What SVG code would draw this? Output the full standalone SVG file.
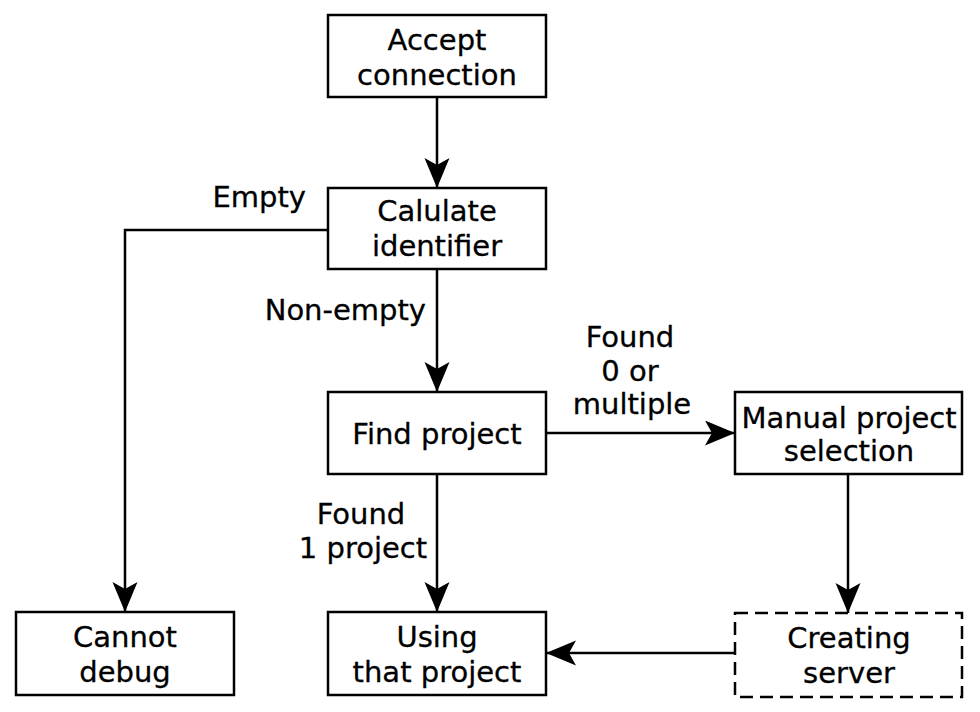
<svg xmlns="http://www.w3.org/2000/svg" width="980" height="712" viewBox="0 0 980 712">
<defs>
<style>
.box{fill:#fff;stroke:#000;stroke-width:2.5}
.dash{stroke-dasharray:13 7}
.t{font-family:"DejaVu Sans",Verdana,sans-serif;font-size:29px;fill:#000;stroke:#000;stroke-width:0.3;text-anchor:middle}
.lbl{font-family:"DejaVu Sans",Verdana,sans-serif;font-size:29px;fill:#000;stroke:#000;stroke-width:0.3}
.c{fill:none;stroke:#000;stroke-width:2.5}
</style>
<marker id="ah" markerUnits="userSpaceOnUse" markerWidth="32" markerHeight="28" refX="30" refY="12.5" orient="auto">
<path d="M0,0 L30,12.5 L0,25 L7,12.5 Z" fill="#000"/>
</marker>
</defs>
<rect width="980" height="712" fill="#fff"/>
<g id="connectors">
<line class="c" x1="437" y1="97" x2="437" y2="188" marker-end="url(#ah)"/>
<polyline class="c" points="328,230 125,230 125,612" marker-end="url(#ah)"/>
<line class="c" x1="437" y1="269" x2="437" y2="392" marker-end="url(#ah)"/>
<line class="c" x1="546" y1="433" x2="735" y2="433" marker-end="url(#ah)"/>
<line class="c" x1="437" y1="474" x2="437" y2="612" marker-end="url(#ah)"/>
<line class="c" x1="848" y1="474" x2="848" y2="613" marker-end="url(#ah)"/>
<line class="c" x1="735" y1="653" x2="546" y2="653" marker-end="url(#ah)"/>
<text class="lbl" x="306" y="207" text-anchor="end">Empty</text>
<text class="lbl" x="426" y="320" text-anchor="end">Non-empty</text>
<text class="lbl" x="630" y="347" text-anchor="middle">Found</text>
<text class="lbl" x="630" y="381" text-anchor="middle">0 or</text>
<text class="lbl" x="632" y="414" text-anchor="middle">multiple</text>
<text class="lbl" x="361" y="524" text-anchor="middle">Found</text>
<text class="lbl" x="363" y="558" text-anchor="middle">1 project</text>
</g>
<g id="accept">
<rect class="box" x="328" y="15" width="218" height="82"/>
<text class="t" x="437" y="50">Accept</text>
<text class="t" x="437" y="85">connection</text>
</g>
<g id="calculate">
<rect class="box" x="328" y="188" width="218" height="81"/>
<text class="t" x="437" y="221">Calulate</text>
<text class="t" x="437" y="256">identifier</text>
</g>
<g id="find">
<rect class="box" x="328" y="392" width="218" height="82"/>
<text class="t" x="437" y="444">Find project</text>
</g>
<g id="manual">
<rect class="box" x="735" y="392" width="227" height="82"/>
<text class="t" x="849" y="428">Manual project</text>
<text class="t" x="849" y="461">selection</text>
</g>
<g id="cannot">
<rect class="box" x="16" y="612" width="218" height="83"/>
<text class="t" x="125" y="647">Cannot</text>
<text class="t" x="125" y="682">debug</text>
</g>
<g id="using">
<rect class="box" x="328" y="612" width="218" height="83"/>
<text class="t" x="437" y="647">Using</text>
<text class="t" x="437" y="682">that project</text>
</g>
<g id="creating">
<rect class="box dash" x="735" y="613" width="227" height="84"/>
<text class="t" x="849" y="648">Creating</text>
<text class="t" x="849" y="683">server</text>
</g>
</svg>
